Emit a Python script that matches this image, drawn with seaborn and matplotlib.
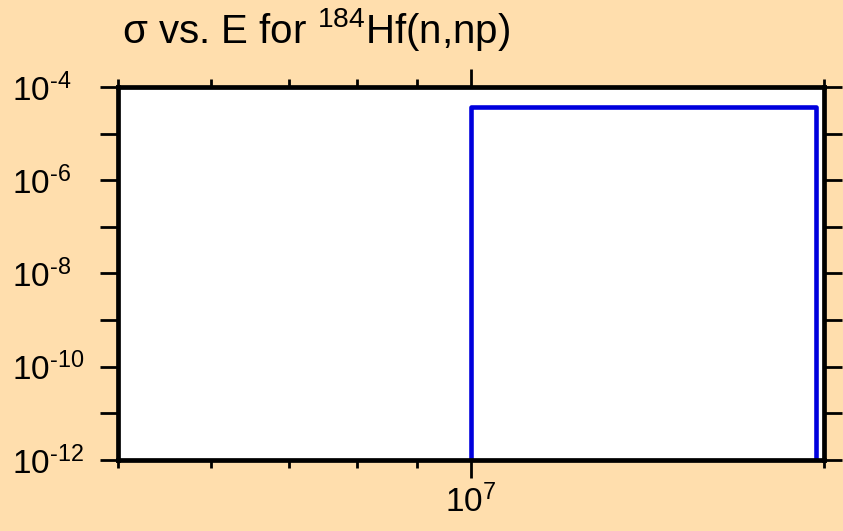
import matplotlib
matplotlib.use('Agg')
import matplotlib.pyplot as plt
import matplotlib.ticker as mticker
import seaborn as sns
import pandas as pd

# data (energy in eV, cross section in b)
energy_edges = [1.0e7, 1.97e7]
xs_values = [3.7e-5]
floor = 1e-13

x_limits = [5e6, 2e7]
y_limits = [1e-12, 1e-4]
x_minor = [5e6, 6e6, 7e6, 8e6, 9e6, 2e7]
x_major = [1e7]
x_major_labels = ['$\\mathregular{10^{7}}$']
y_major = [1e-12, 1e-10, 1e-8, 1e-6, 1e-4]
y_exps = ['12', '10', '8', '6', '4']
y_major_labels = ['$\\mathregular{10^{\\text{-}' + e + '}}$' for e in y_exps]
y_minor = [1e-11, 1e-9, 1e-7, 1e-5]

# histogram outline of the evaluated cross section
step_x = [energy_edges[0], energy_edges[0], energy_edges[1], energy_edges[1]]
step_y = [floor, xs_values[0], xs_values[0], floor]
df = pd.DataFrame({'E': step_x, 'sigma': step_y})

sns.set_style('white')
plt.rcParams['font.family'] = ['Liberation Sans', 'DejaVu Sans']
plt.rcParams['mathtext.fontset'] = 'custom'
plt.rcParams['mathtext.rm'] = 'Liberation Sans'
plt.rcParams['mathtext.it'] = 'Liberation Sans'

bg = '#FFDEAD'
fig = plt.figure(figsize=(8.43, 5.31), dpi=100, facecolor=bg)
ax = fig.add_axes([0.14, 0.1337, 0.8375, 0.7025])
ax.set_facecolor('white')

sns.lineplot(data=df, x='E', y='sigma', sort=False, estimator=None,
             color='#0000DD', linewidth=3.3, ax=ax)

ax.set_xscale('log')
ax.set_yscale('log')
ax.set_xlim(x_limits)
ax.set_ylim(y_limits)
ax.set_xlabel('')
ax.set_ylabel('')

ax.xaxis.set_major_locator(mticker.FixedLocator(x_major))
ax.xaxis.set_major_formatter(mticker.FixedFormatter(x_major_labels))
ax.xaxis.set_minor_locator(mticker.FixedLocator(x_minor))
ax.xaxis.set_minor_formatter(mticker.NullFormatter())
ax.yaxis.set_major_locator(mticker.FixedLocator(y_major))
ax.yaxis.set_major_formatter(mticker.FixedFormatter(y_major_labels))
ax.yaxis.set_minor_locator(mticker.FixedLocator(y_minor))
ax.yaxis.set_minor_formatter(mticker.NullFormatter())

ax.tick_params(axis='both', which='both', direction='out', width=2,
               color='black', labelsize=24, labelcolor='black')
ax.tick_params(axis='x', which='major', length=13, top=True, bottom=True, pad=5)
ax.tick_params(axis='x', which='minor', length=6, top=True, bottom=True)
ax.tick_params(axis='y', which='both', length=13, left=True, right=True, pad=63)
for lab in ax.get_yticklabels():
    lab.set_horizontalalignment('left')

for s in ax.spines.values():
    s.set_visible(True)
    s.set_color('black')
    s.set_linewidth(3.4)

fig.text(0.145, 0.919, '$\\mathregular{\\sigma}$ vs. E for $\\mathregular{^{184}}$Hf(n,np)',
         fontsize=29, color='black', ha='left', va='baseline')

fig.savefig('out.png', dpi=100, facecolor=bg)
